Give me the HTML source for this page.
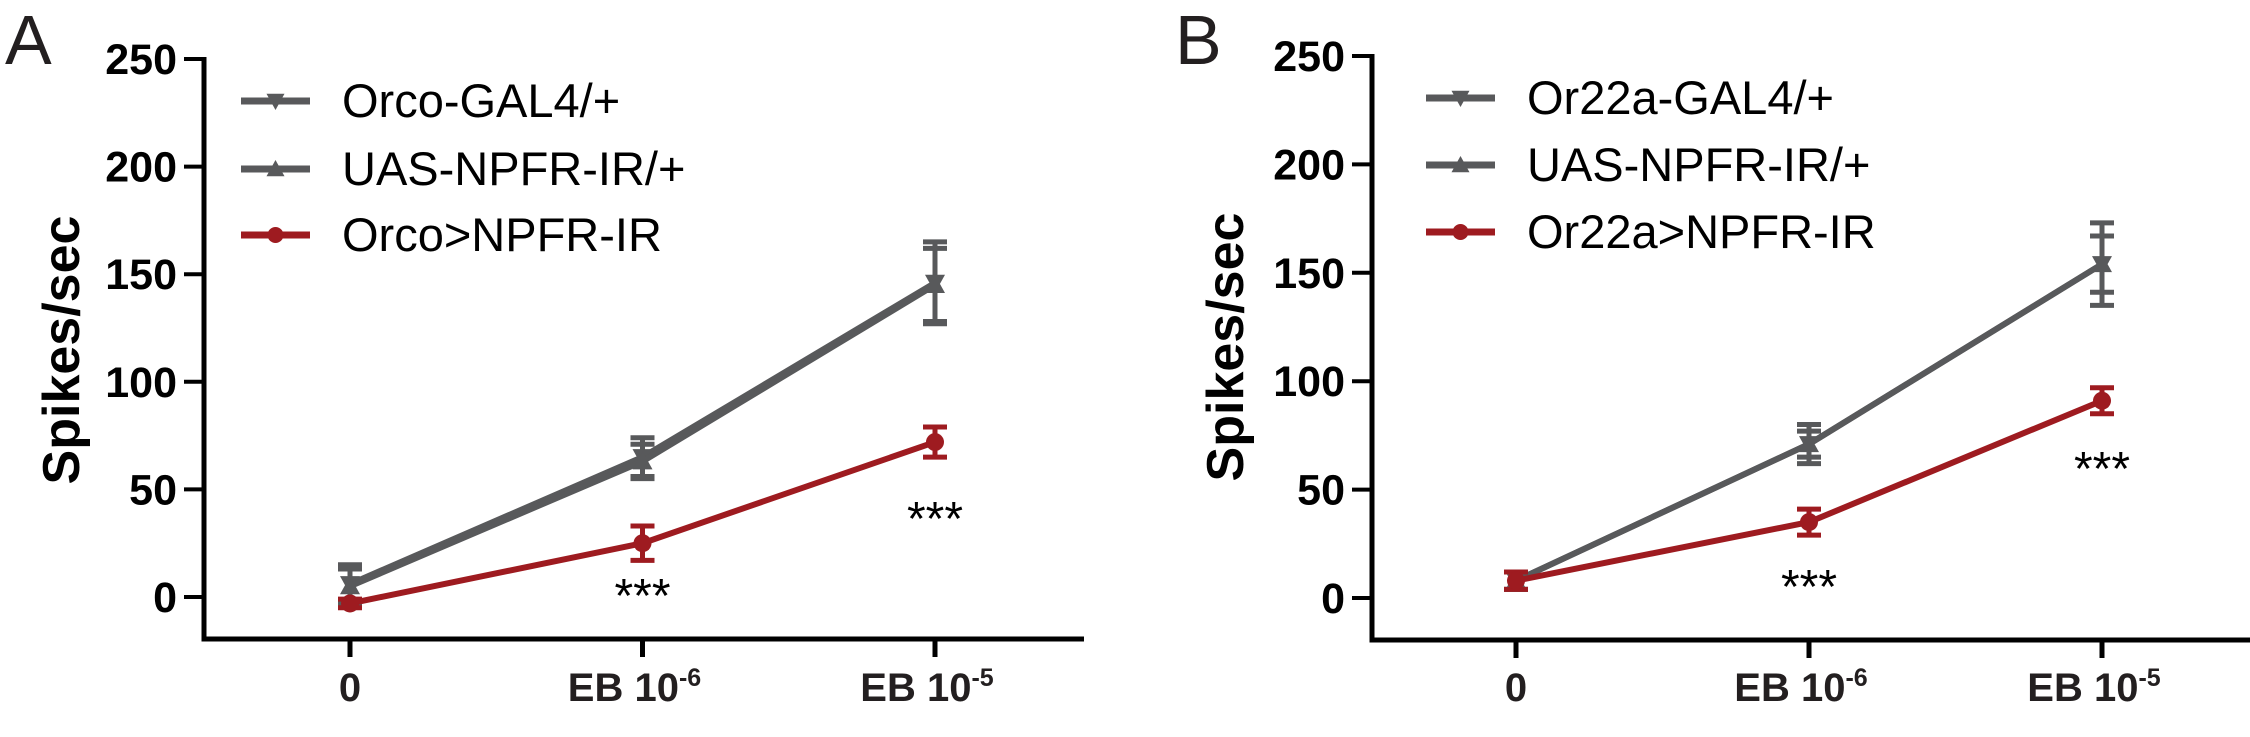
<!DOCTYPE html>
<html><head><meta charset="utf-8"><style>
html,body{margin:0;padding:0;background:#fff;}
svg{display:block;font-family:"Liberation Sans",Arial,sans-serif;}
</style></head><body>
<svg id="fig" width="2250" height="737" viewBox="0 0 2250 737" xmlns="http://www.w3.org/2000/svg"></svg>
<script>
// ---- data ----
const categories = ["0", "EB 10", "EB 10"];
const catExp = ["", "-6", "-5"];
const yTicks = [0, 50, 100, 150, 200, 250];
const seriesNamesA = ["Orco-GAL4/+", "UAS-NPFR-IR/+", "Orco>NPFR-IR"];
const seriesNamesB = ["Or22a-GAL4/+", "UAS-NPFR-IR/+", "Or22a>NPFR-IR"];
const gal4A = [6, 65, 146];
const gal4AErr = [9, 9, 19];
const uasA = [5, 63, 145];
const uasAErr = [8, 8, 17];
const rnaiA = [-3, 25, 72];
const rnaiAErr = [2, 8, 7];
const starsA = [null, "***", "***"];
const gal4B = [8, 71, 154];
const gal4BErr = [4, 9, 19];
const uasB = [8, 71, 154];
const uasBErr = [4, 6, 13];
const rnaiB = [8, 35, 91];
const rnaiBErr = [4, 6, 6];
const starsB = [null, "***", "***"];

const NS = "http://www.w3.org/2000/svg";
const svg = document.getElementById("fig");
const GRAY = "#58595b", RED = "#9e1b20";
function mk(tag, attrs, parent) {
  const e = document.createElementNS(NS, tag);
  for (const k in attrs) e.setAttribute(k, attrs[k]);
  (parent || svg).appendChild(e);
  return e;
}

function panel(cfg) {
  const g = mk("g", {});
  
  
  const y = v => cfg.y0 - (v / 250) * (cfg.y0 - cfg.yTop);
  const x = i => cfg.xs[0] + i * cfg.dx;

  const lt = mk("text", {x: cfg.letterX, y: 64, "font-size": 70, fill: "#231f20"}, g);
  lt.textContent = cfg.letter;
  
  

  const ya = mk("line", {x1: cfg.axX, y1: cfg.yTop - 2, x2: cfg.axX, y2: cfg.axY + 2.5, stroke: "#000", "stroke-width": 5}, g);
  
  
  const xa = mk("line", {x1: cfg.axX - 2.5, y1: cfg.axY, x2: cfg.axEnd, y2: cfg.axY, stroke: "#000", "stroke-width": 5}, g);
  
  

  yTicks.forEach(t => {
    const tl = mk("line", {x1: cfg.axX - 20, y1: y(t), x2: cfg.axX, y2: y(t), stroke: "#000", "stroke-width": 4}, g);
    
    
    const tx = mk("text", {x: cfg.axX - 27, y: y(t) + 15, "font-size": 43, "font-weight": "bold", "text-anchor": "end", fill: "#000"}, g);
    tx.textContent = t;
    
    
  });
  categories.forEach((c, i) => {
    const tl = mk("line", {x1: x(i), y1: cfg.axY, x2: x(i), y2: cfg.axY + 18, stroke: "#000", "stroke-width": 5}, g);
    
    
    const tx = mk("text", {x: x(i) + (catExp[i] ? -8 : 0), y: 701, "font-size": 40, "font-weight": "bold", "text-anchor": "middle", fill: "#231f20"}, g);
    
    
    tx.appendChild(document.createTextNode(c));
    if (catExp[i]) {
      const sp = mk("tspan", {dy: -15, "font-size": 25}, tx);
      sp.textContent = catExp[i];
    }
  });

  const yt = mk("text", {x: 0, y: 0, "font-size": 52, "font-weight": "bold", "text-anchor": "middle", fill: "#000",
    transform: `translate(${cfg.titleX},${cfg.titleY}) rotate(-90)`}, g);
  yt.textContent = "Spikes/sec";
  
  

  function marker(cx, cy, kind, color, parent, r) {
    let m;
    if (kind === "down") m = mk("polygon", {points: `${cx - r},${cy - r * 0.8} ${cx + r},${cy - r * 0.8} ${cx},${cy + r}`, fill: color}, parent);
    else if (kind === "up") m = mk("polygon", {points: `${cx - r},${cy + r * 0.8} ${cx + r},${cy + r * 0.8} ${cx},${cy - r}`, fill: color}, parent);
    else m = mk("circle", {cx, cy, r, fill: color}, parent);
    return m;
  }

  cfg.series.forEach((s, si) => {
    const sg = mk("g", {}, g);
    
    
    const pts = s.vals.map((v, i) => `${x(i)},${y(v)}`).join(" ");
    const pl = mk("polyline", {points: pts, fill: "none", stroke: s.color, "stroke-width": 6}, sg);
    
    
    s.vals.forEach((v, i) => {
      const e = s.err[i];
      const eb = mk("path", {d: `M${x(i)},${y(v + e)}V${y(v - e)}M${x(i) - 12},${y(v + e)}H${x(i) + 12}M${x(i) - 12},${y(v - e)}H${x(i) + 12}`,
        stroke: s.color, "stroke-width": 5, fill: "none"}, sg);
      
      
      const m = marker(x(i), y(v), s.kind, s.color, sg, s.kind === "circle" ? 9 : 10);
      
      
    });
    const ly = cfg.legY[si];
    const lg = mk("g", {}, g);
    
    
    mk("line", {x1: cfg.legX, y1: ly, x2: cfg.legX + 69, y2: ly, stroke: s.color, "stroke-width": 7}, lg);
    marker(cfg.legX + 34.5, ly, s.kind, s.color, lg, s.kind === "circle" ? 8 : 9);
    const lt2 = mk("text", {x: cfg.legX + 101, y: ly + 16, "font-size": 47, fill: "#000"}, lg);
    lt2.textContent = s.name;
  });

  cfg.stars.forEach((st, i) => {
    if (!st) return;
    const t = mk("text", {x: x(i), y: cfg.starY[i] + 22, "font-size": 48, "text-anchor": "middle", fill: "#000"}, g);
    t.textContent = st;
    
    
  });
}

panel({
  letter: "A", letterX: 5, axX: 204, axY: 639, axEnd: 1084, yTop: 59, y0: 597,
  xs: [350], dx: 292.5, titleX: 79, titleY: 350,
  legX: 241, legY: [101, 169, 235],
  series: [
    {key: "orco-gal4", name: seriesNamesA[0], vals: gal4A, err: gal4AErr, color: GRAY, kind: "down"},
    {key: "uas-npfr-ir", name: seriesNamesA[1], vals: uasA, err: uasAErr, color: GRAY, kind: "up"},
    {key: "orco-npfr-ir", name: seriesNamesA[2], vals: rnaiA, err: rnaiAErr, color: RED, kind: "circle"}
  ],
  stars: starsA, starY: [0, 590, 513]
});
panel({
  letter: "B", letterX: 1175, axX: 1372, axY: 640, axEnd: 2250, yTop: 56, y0: 598,
  xs: [1516], dx: 293, titleX: 1243, titleY: 347,
  legX: 1426, legY: [98, 165, 232],
  series: [
    {key: "or22a-gal4", name: seriesNamesB[0], vals: gal4B, err: gal4BErr, color: GRAY, kind: "down"},
    {key: "uas-npfr-ir", name: seriesNamesB[1], vals: uasB, err: uasBErr, color: GRAY, kind: "up"},
    {key: "or22a-npfr-ir", name: seriesNamesB[2], vals: rnaiB, err: rnaiBErr, color: RED, kind: "circle"}
  ],
  stars: starsB, starY: [0, 581, 463]
});
</script>
</body></html>
